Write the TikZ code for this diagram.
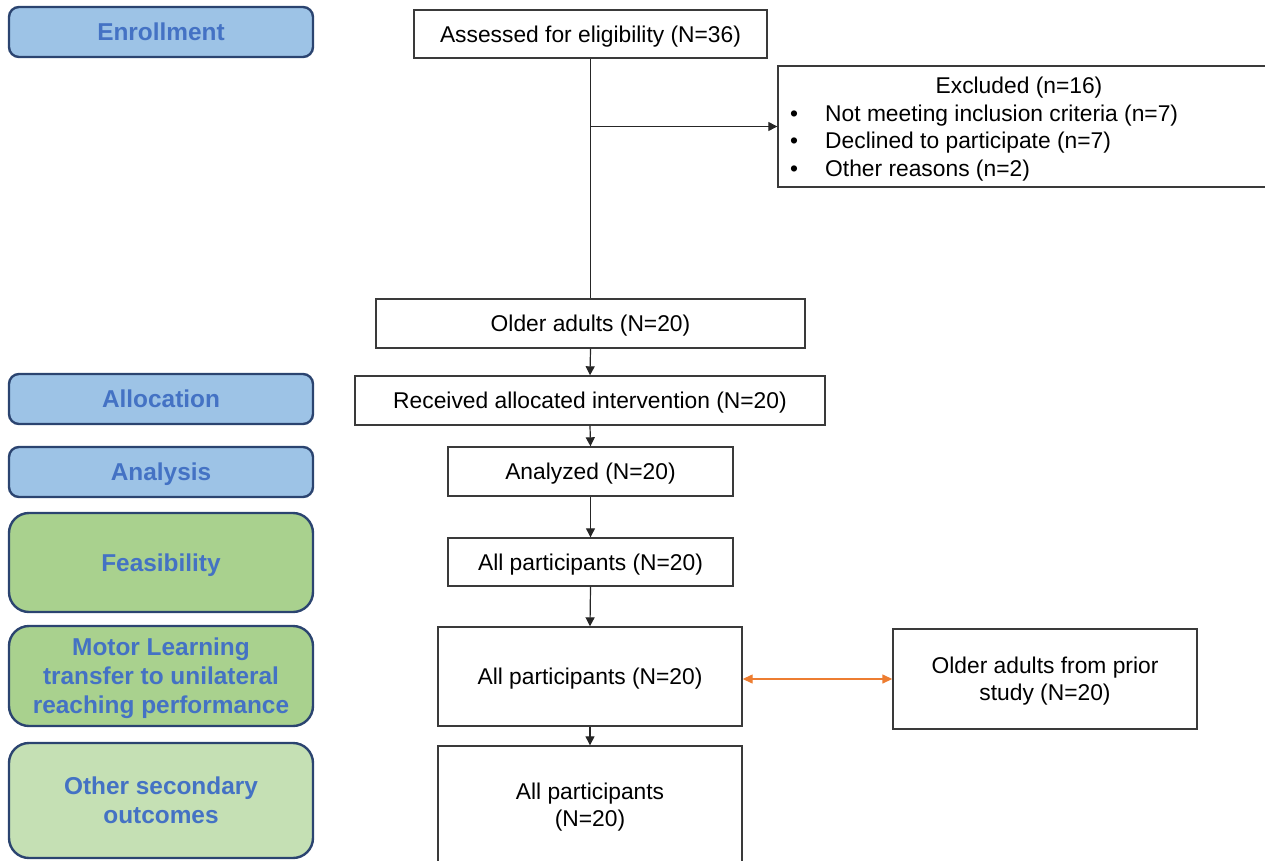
\documentclass[tikz,border=0pt]{standalone}
\usepackage{fontspec}
\setmainfont{Liberation Sans}
\usetikzlibrary{arrows.meta,calc}
\definecolor{labtext}{HTML}{4472C4}
\definecolor{labborder}{HTML}{2B4470}
\definecolor{blue1}{HTML}{9DC3E6}
\definecolor{green1}{HTML}{A9D18E}
\definecolor{green2}{HTML}{C5E0B4}
\definecolor{boxline}{HTML}{3A3A3A}
\definecolor{orangeline}{HTML}{ED7D31}
\tikzset{
  x=1pt, y=-1pt,
  lab/.style={draw=labborder, line width=2.4pt, rounded corners=10pt, text=labtext,
    font=\fontsize{24.4}{29}\selectfont\bfseries, align=center, inner sep=0pt, text depth=0pt},
  flowbox/.style={draw=boxline, line width=1.4pt, fill=white, inner sep=0pt,
    font=\fontsize{22.8}{27}\selectfont, align=center, text depth=0pt},
  txt/.style={inner sep=0pt, font=\fontsize{22.8}{27.5}\selectfont, align=center},
  conn/.style={draw=black!85, line width=1.2pt},
  arr/.style={conn, -{Triangle[length=9pt,width=9pt]}},
  darr/.style={draw=orangeline, line width=1.4pt, {Triangle[length=10pt,width=9pt]}-{Triangle[length=10pt,width=9pt]}}
}
\begin{document}
\begin{tikzpicture}
\useasboundingbox (0,0) rectangle (1265,861);
% left stage labels
\node[lab, fill=blue1, minimum width=304pt, minimum height=50pt] (enr) at (161,32) {Enrollment};
\node[lab, fill=blue1, minimum width=304pt, minimum height=50pt] (alloc) at (161,399) {Allocation};
\node[lab, fill=blue1, minimum width=304pt, minimum height=50pt] (anal) at (161,472) {Analysis};
\node[lab, fill=green1, rounded corners=20pt, minimum width=304pt, minimum height=99pt] (feas) at (161,562.5) {Feasibility};
\node[lab, fill=green1, rounded corners=20pt, minimum width=304pt, minimum height=100pt] (motor) at (161,676) {Motor Learning\\transfer to unilateral\\reaching performance};
\node[lab, fill=green2, rounded corners=20pt, minimum width=304pt, minimum height=115pt] (other) at (161,800.5) {Other secondary\\outcomes};

% flow boxes
\node[flowbox, minimum width=353pt, minimum height=48pt] (assess) at (590.5,34) {Assessed for eligibility (N=36)};
\node[flowbox, minimum width=497pt, minimum height=121pt] (excl) at (1026.5,126.5) {};
\node[txt, anchor=base] (exh) at (1019,93.5) {Excluded (n=16)};
\node[txt, anchor=base] (b1) at (794,121.5) {•};
\node[txt, anchor=base west] (e1) at (825,121.5) {Not meeting inclusion criteria (n=7)};
\node[txt, anchor=base] (b2) at (794,149) {•};
\node[txt, anchor=base west] (e2) at (825,149) {Declined to participate (n=7)};
\node[txt, anchor=base] (b3) at (794,176.5) {•};
\node[txt, anchor=base west] (e3) at (825,176.5) {Other reasons (n=2)};

\node[flowbox, minimum width=429pt, minimum height=49pt] (older) at (590.5,323.5) {Older adults (N=20)};
\node[flowbox, minimum width=470pt, minimum height=49pt] (recv) at (590,400.5) {Received allocated intervention (N=20)};
\node[flowbox, minimum width=285pt, minimum height=49pt] (analyzed) at (590.5,471.5) {Analyzed (N=20)};
\node[flowbox, minimum width=285pt, minimum height=48pt] (apfeas) at (590.5,562) {All participants (N=20)};
\node[flowbox, minimum width=304pt, minimum height=99pt] (apmotor) at (590,676.5) {All participants (N=20)};
\node[flowbox, minimum width=304pt, minimum height=100pt] (prior) at (1045,679) {Older adults from prior\\study (N=20)};
\node[flowbox, minimum width=304pt, minimum height=154pt] (apother) at (590,823) {};
\node[txt, text depth=0pt] (apothertxt) at (590,804.5) {All participants\\(N=20)};

% connectors
\draw[conn] (assess.south) -- (older.north);
\draw[arr] (assess.south |- excl.west) -- (excl.west);
\draw[arr] (older.south) -- (recv.north);
\draw[arr] (recv.south) -- (analyzed.north);
\draw[arr] (analyzed.south) -- (apfeas.north);
\draw[arr] (apfeas.south) -- (apmotor.north);
\draw[arr] (apmotor.south) -- (apother.north);
\draw[darr] (apmotor.east |- prior.west) -- (prior.west);
\end{tikzpicture}
\end{document}
